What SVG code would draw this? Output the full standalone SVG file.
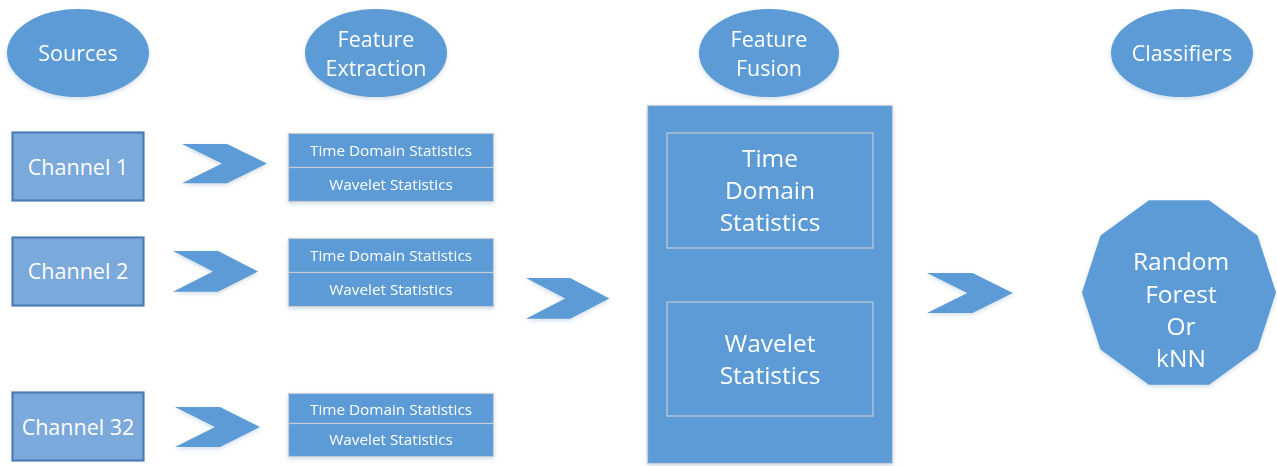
<svg xmlns="http://www.w3.org/2000/svg" width="1277" height="466" viewBox="0 0 1277 466">
  <style>
    .blue { fill: #5B9BD5; }
    .chan { fill: #7BA9DB; stroke: #4A7DB5; stroke-width: 2.2; }
    .cell { fill: #5B9BD5; stroke: #C6CCD3; stroke-width: 1.2; }
    .inner { fill: none; stroke: #C6CCD3; stroke-width: 1.2; }
    .lbl { fill: #FFFFFF; font-family: "Open Sans", "Noto Sans", sans-serif; text-anchor: middle; dominant-baseline: central; }
    .big { font-size: 21.5px; }
    .small { font-size: 15.3px; }
    .large { font-size: 24.5px; }
  </style>
  <defs>
    <filter id="soft" x="-10%" y="-10%" width="120%" height="125%">
      <feDropShadow dx="0" dy="2" stdDeviation="2" flood-color="#7F9FBF" flood-opacity="0.35"/>
    </filter>
    <polygon id="chevron" points="0,0 45,0 85,20 45,40 0,40 40,20"/>
  </defs>

  <rect width="1277" height="466" fill="#FFFFFF"/>

  <!-- stage headers -->
  <g id="hdr-sources" filter="url(#soft)">
    <ellipse class="blue" cx="78" cy="53" rx="71" ry="44"/>
    <text class="lbl big" x="78" y="52">Sources</text>
  </g>
  <g id="hdr-extraction" filter="url(#soft)">
    <ellipse class="blue" cx="376" cy="53" rx="71" ry="44"/>
    <text class="lbl big" x="376" y="38">Feature</text>
    <text class="lbl big" x="376" y="67">Extraction</text>
  </g>
  <g id="hdr-fusion" filter="url(#soft)">
    <ellipse class="blue" cx="769" cy="53" rx="70" ry="44"/>
    <text class="lbl big" x="769" y="38">Feature</text>
    <text class="lbl big" x="769" y="67">Fusion</text>
  </g>
  <g id="hdr-classifiers" filter="url(#soft)">
    <ellipse class="blue" cx="1182" cy="53" rx="71" ry="44"/>
    <text class="lbl big" x="1182" y="52">Classifiers</text>
  </g>

  <!-- input channels -->
  <g id="ch1">
    <rect class="chan" x="12.5" y="132.5" width="131" height="68"/>
    <text class="lbl big" x="78" y="166">Channel 1</text>
  </g>
  <g id="ch2">
    <rect class="chan" x="12.5" y="237.5" width="131" height="68"/>
    <text class="lbl big" x="78" y="270">Channel 2</text>
  </g>
  <g id="ch32">
    <rect class="chan" x="12.5" y="392.5" width="131" height="68"/>
    <text class="lbl big" x="78" y="426">Channel 32</text>
  </g>

  <!-- per-channel feature blocks -->
  <g id="feat1" filter="url(#soft)">
    <rect class="cell" x="288.5" y="133.5" width="205" height="34"/>
    <rect class="cell" x="288.5" y="167.5" width="205" height="34"/>
    <text class="lbl small" x="391" y="150">Time Domain Statistics</text>
    <text class="lbl small" x="391" y="184">Wavelet Statistics</text>
  </g>
  <g id="feat2" filter="url(#soft)">
    <rect class="cell" x="288.5" y="238.5" width="205" height="34"/>
    <rect class="cell" x="288.5" y="272.5" width="205" height="34"/>
    <text class="lbl small" x="391" y="255">Time Domain Statistics</text>
    <text class="lbl small" x="391" y="289">Wavelet Statistics</text>
  </g>
  <g id="feat32" filter="url(#soft)">
    <rect class="cell" x="288.5" y="393.5" width="205" height="30"/>
    <rect class="cell" x="288.5" y="423.5" width="205" height="33"/>
    <text class="lbl small" x="391" y="409">Time Domain Statistics</text>
    <text class="lbl small" x="391" y="439">Wavelet Statistics</text>
  </g>

  <!-- fused feature vector -->
  <g id="fusion" filter="url(#soft)">
    <rect class="cell" x="647.5" y="105.5" width="245" height="358"/>
    <rect class="inner" x="667" y="133" width="206" height="115"/>
    <rect class="inner" x="667" y="302" width="206" height="114"/>
    <text class="lbl large" x="770" y="157">Time</text>
    <text class="lbl large" x="770" y="189">Domain</text>
    <text class="lbl large" x="770" y="221">Statistics</text>
    <text class="lbl large" x="770" y="342">Wavelet</text>
    <text class="lbl large" x="770" y="374">Statistics</text>
  </g>

  <!-- classifier -->
  <g id="classifier" filter="url(#soft)">
    <polygon class="blue" points="1276,292.5 1257.5,235.5 1209,200.2 1149,200.2 1100.5,235.5 1082,292.5 1100.5,349.5 1149,384.8 1209,384.8 1257.5,349.5"/>
    <text class="lbl large" x="1181" y="260">Random</text>
    <text class="lbl large" x="1181" y="293">Forest</text>
    <text class="lbl large" x="1181" y="325">Or</text>
    <text class="lbl large" x="1181" y="357">kNN</text>
  </g>

  <!-- flow chevrons -->
  <g id="connectors" class="blue" filter="url(#soft)">
    <use href="#chevron" transform="translate(182,144) scale(1,0.98)"/>
    <use href="#chevron" transform="translate(173,251) scale(1,1.02)"/>
    <use href="#chevron" transform="translate(175,407)"/>
    <use href="#chevron" transform="translate(526,278) scale(0.98,1.02)"/>
    <use href="#chevron" transform="translate(927,273) scale(1.01,1)"/>
  </g>
</svg>
